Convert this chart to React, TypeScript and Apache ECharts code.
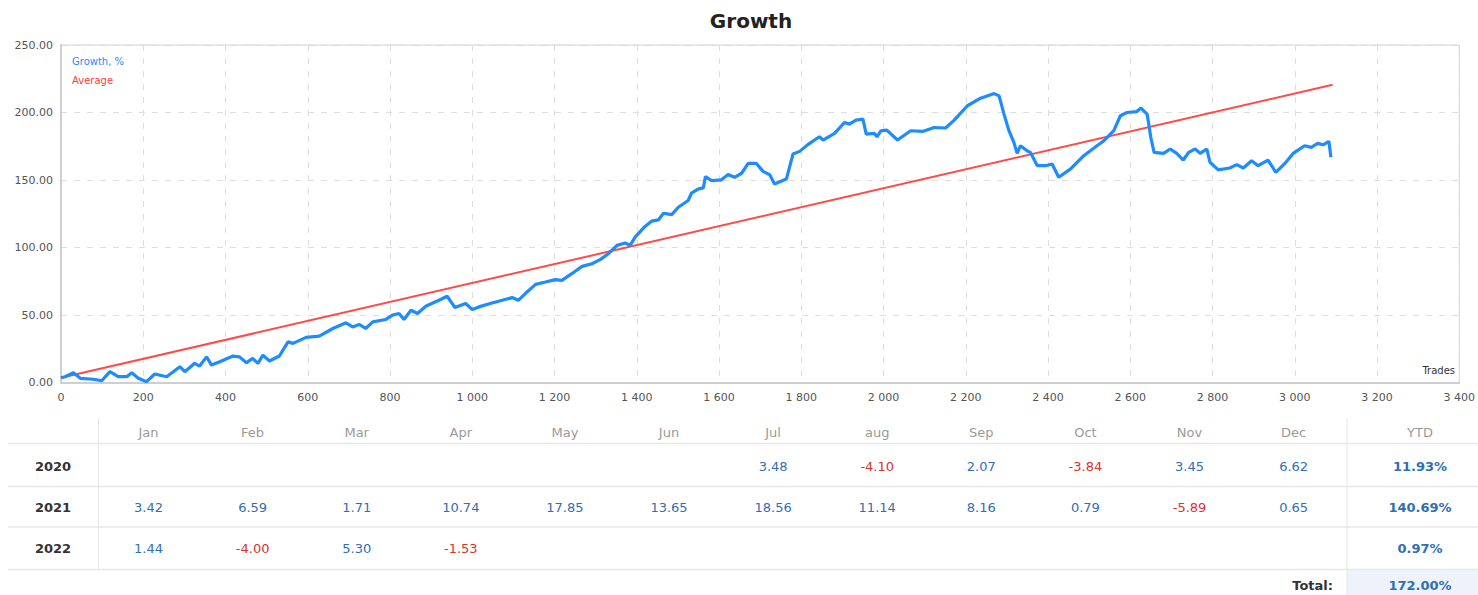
import React, { useEffect, useRef } from "react";
import * as echarts from "echarts";

const chartTitle = "Growth";
const seriesNames = ["Growth, %", "Average"];

const growthTrades = [
  0, 10, 30, 47, 79, 99, 119, 139, 160, 172, 188, 208, 228, 257, 269, 289, 301, 325, 337, 354,
  366, 386, 418, 434, 451, 466, 479, 491, 507, 531, 552, 564, 596, 628, 661, 693, 709, 725, 741, 758,
  790, 806, 822, 834, 851, 867, 887, 919, 939, 958, 984, 1000, 1016, 1048, 1073, 1097, 1112, 1129, 1154, 1178,
  1202, 1218, 1242, 1267, 1291, 1311, 1331, 1352, 1372, 1384, 1396, 1420, 1436, 1453, 1465, 1485, 1501, 1525, 1533, 1550,
  1562, 1567, 1582, 1606, 1622, 1638, 1655, 1671, 1691, 1707, 1723, 1735, 1764, 1780, 1796, 1816, 1844, 1853, 1881, 1905,
  1917, 1933, 1950, 1958, 1978, 1984, 1994, 2008, 2034, 2066, 2095, 2123, 2151, 2172, 2204, 2236, 2269, 2281, 2293, 2305,
  2317, 2325, 2333, 2349, 2357, 2374, 2394, 2410, 2426, 2455, 2487, 2503, 2519, 2536, 2560, 2576, 2592, 2616, 2626, 2641,
  2650, 2658, 2681, 2697, 2713, 2729, 2742, 2758, 2770, 2786, 2794, 2814, 2842, 2859, 2875, 2895, 2911, 2935, 2954, 2976,
  2996, 3024, 3040, 3056, 3069, 3083, 3088,
];
const growthValues = [
  3.5, 4.3, 7.2, 3.1, 2.4, 1.3, 8, 4.3, 4.3, 7.2, 3.1, 0.6, 6.3, 4.3, 7, 11.7, 8, 14.2, 12.2, 19,
  12.9, 15.4, 19.6, 19, 14.6, 17.9, 14.2, 20.3, 15.9, 19.6, 30.1, 29, 33.4, 34.3, 40, 44.2, 41.2, 43, 40, 44.9,
  46.7, 49.9, 51.1, 46.7, 53.5, 51.1, 56.5, 60.9, 63.9, 55.5, 58.5, 54, 56, 58.9, 60.9, 62.9, 60.9, 65.9, 72.7, 74.4,
  76.2, 75.7, 80.6, 86, 88, 91, 95.4, 101.6, 103.3, 101.6, 107.7, 115.6, 119.5, 120.5, 125.4, 124.4, 129.8, 134.8, 140.2, 143.4,
  144.2, 152.5, 149.6, 150.1, 154, 152, 155, 162.3, 162.3, 156.4, 154, 147.1, 150.8, 169.3, 171.2, 176.2, 182, 179.6, 184.5, 192.6,
  191.4, 194.4, 195.1, 184, 184.5, 182, 186.5, 187, 179.6, 186.5, 186, 188.9, 188.5, 194.4, 205, 210.6, 214, 212.3, 198.8, 186.5,
  177.8, 169.7, 175.4, 171.7, 170.5, 160.6, 160.6, 161.9, 152, 158.2, 168, 171.7, 175.4, 179.1, 186.5, 197.6, 200, 200.7, 203.3, 198.8,
  181.5, 170.5, 169.7, 173, 169.7, 164.8, 170.5, 173, 169.7, 173, 163.1, 157.5, 158.9, 161.4, 158.9, 164.3, 160.6, 164.8, 155.7, 162.3,
  169.7, 175.4, 174.2, 177.1, 176.1, 178.6, 166.8,
];

const averageTrades = [0, 3092];
const averageValues = [3.5, 220.5];

const months = ["Jan", "Feb", "Mar", "Apr", "May", "Jun", "Jul", "aug", "Sep", "Oct", "Nov", "Dec"];
const years = ["2020", "2021", "2022"];
const monthly2020 = [null, null, null, null, null, null, 3.48, -4.1, 2.07, -3.84, 3.45, 6.62];
const monthly2021 = [3.42, 6.59, 1.71, 10.74, 17.85, 13.65, 18.56, 11.14, 8.16, 0.79, -5.89, 0.65];
const monthly2022 = [1.44, -4.0, 5.3, -1.53, null, null, null, null, null, null, null, null];
const ytdValues = [11.93, 140.69, 0.97];
const ytdHeader = "YTD";
const totalLabel = "Total:";
const totalValue = 172.0;

const FONT = "'DejaVu Sans', Verdana, sans-serif";

export default function App() {
  const ref = useRef<HTMLDivElement>(null);

  useEffect(() => {
    document.body.style.margin = "0";
    const chart = echarts.init(ref.current!, undefined, { renderer: "svg" });

    const monthly = [monthly2020, monthly2021, monthly2022];
    const rowY = [466.5, 507, 548];
    const colX = (i: number) => 148.5 + i * 104.1;
    const ytdX = 1420;
    const headerY = 432;
    const blue = "#2f6fb5";
    const red = "#d8322f";

    const graphics: any[] = [];
    graphics.push({
      type: "rect",
      shape: { x: 1347, y: 570, width: 131, height: 25 },
      style: { fill: "#eef3fb" },
      silent: true,
    });
    [443.5, 486.5, 527, 569.5].forEach((y) => {
      graphics.push({
        type: "line",
        shape: { x1: 8, y1: y, x2: 1478, y2: y },
        style: { stroke: "#e8e8e8", lineWidth: 1.5 },
        silent: true,
      });
    });
    graphics.push({
      type: "line",
      shape: { x1: 98.5, y1: 418, x2: 98.5, y2: 569 },
      style: { stroke: "#e6e6e6", lineWidth: 1 },
      silent: true,
    });
    graphics.push({
      type: "line",
      shape: { x1: 1347, y1: 418, x2: 1347, y2: 595 },
      style: { stroke: "#e6e6e6", lineWidth: 1 },
      silent: true,
    });
    const txt = (text: string, x: number, y: number, fill: string, weight: string, size: number, align = "center") => ({
      type: "text",
      x,
      y,
      silent: true,
      style: {
        text,
        fill,
        font: `${weight} ${size}px ${FONT}`,
        textAlign: align,
        textVerticalAlign: "middle",
      },
    });
    graphics.push(txt(chartTitle, 751, 21, "#222222", "bold", 20));
    months.forEach((m, i) => graphics.push(txt(m, colX(i), headerY, "#9a9a9a", "normal", 13)));
    graphics.push(txt(ytdHeader, ytdX, headerY, "#9a9a9a", "normal", 13));
    years.forEach((yr, r) => {
      graphics.push(txt(yr, 53, rowY[r], "#333333", "bold", 13));
      monthly[r].forEach((v, i) => {
        if (v === null) return;
        graphics.push(txt((v as number).toFixed(2), colX(i), rowY[r], v < 0 ? red : blue, "normal", 13));
      });
      graphics.push(txt(ytdValues[r].toFixed(2) + "%", ytdX, rowY[r], ytdValues[r] < 0 ? red : blue, "bold", 13));
    });
    graphics.push(txt(totalLabel, 1333, 585, "#333333", "bold", 13, "right"));
    graphics.push(txt(totalValue.toFixed(2) + "%", ytdX, 585, blue, "bold", 13));
    graphics.push(txt(seriesNames[0], 72, 61, "#1e8cff", "normal", 10, "left"));
    graphics.push(txt(seriesNames[1], 72, 80, "#ff3b3b", "normal", 10, "left"));
    graphics.push(txt("Trades", 1455, 370, "#333333", "normal", 10, "right"));

    chart.setOption({
      animation: false,
      grid: {
        left: 61,
        right: 15,
        top: 45,
        bottom: 212.5,
        show: true,
        borderColor: "#d0d0d0",
        borderWidth: 1,
        containLabel: false,
      },
      xAxis: {
        type: "value",
        min: 0,
        max: 3400,
        interval: 200,
        axisLine: { show: true, lineStyle: { color: "#cfcfcf", width: 2 } },
        axisTick: { show: false },
        axisLabel: {
          color: "#555",
          fontFamily: FONT,
          fontSize: 11,
          margin: 9,
          formatter: (v: number) => String(v).replace(/\B(?=(\d{3})+(?!\d))/g, " "),
        },
        splitLine: { show: true, lineStyle: { color: "#dedede", type: [6, 7] } },
      },
      yAxis: {
        type: "value",
        min: 0,
        max: 250,
        interval: 50,
        axisLine: { show: true, lineStyle: { color: "#cfcfcf", width: 2 } },
        axisTick: { show: false },
        axisLabel: {
          color: "#555",
          fontFamily: FONT,
          fontSize: 11,
          margin: 8,
          formatter: (v: number) => v.toFixed(2),
        },
        splitLine: { show: true, lineStyle: { color: "#dedede", type: [6, 7] } },
      },
      series: [
        {
          name: seriesNames[1],
          type: "line",
          showSymbol: false,
          data: averageTrades.map((t, i) => [t, averageValues[i]]),
          lineStyle: { color: "#ff4a4a", width: 2 },
          itemStyle: { color: "#ff4a4a" },
          z: 2,
        },
        {
          name: seriesNames[0],
          type: "line",
          showSymbol: false,
          data: growthTrades.map((t, i) => [t, growthValues[i]]),
          lineStyle: { color: "#1e8cff", width: 3.2 },
          itemStyle: { color: "#1e8cff" },
          z: 3,
        },
      ],
      graphic: graphics,
    });

    return () => chart.dispose();
  }, []);

  return <div ref={ref} style={{ width: 1478, height: 595, position: "absolute", left: 0, top: 0 }} />;
}
